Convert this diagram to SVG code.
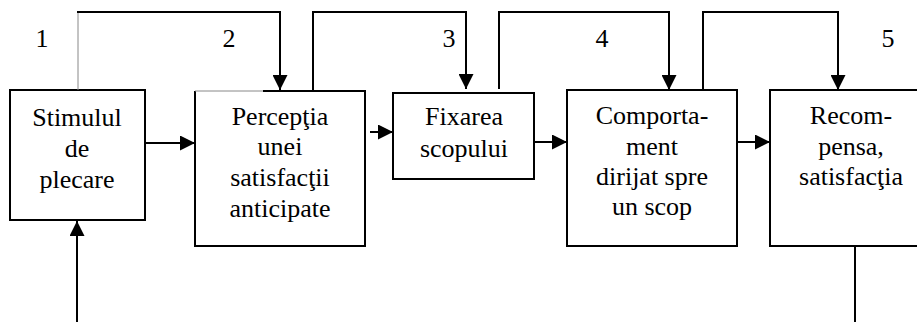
<svg xmlns="http://www.w3.org/2000/svg" width="917" height="322" viewBox="0 0 917 322">
<style>
.box{fill:#fff;stroke:#000;stroke-width:2}
.ln{fill:none;stroke:#000;stroke-width:2}
.thin{fill:none;stroke:#888;stroke-width:1}
.t{font-family:"Times New Roman","Liberation Serif",Tinos,"Nimbus Roman","DejaVu Serif",serif;font-size:26px;fill:#000;text-anchor:middle}
</style>
<defs>
<marker id="ah" markerUnits="userSpaceOnUse" markerWidth="15" markerHeight="15" refX="15" refY="7.5" orient="auto" viewBox="0 0 15 15">
<path d="M0,0 L15,7.5 L0,15 z" fill="#000"/>
</marker>
</defs>
<rect width="917" height="322" fill="#fff"/>
<g id="labels" class="t">
<text x="42" y="47">1</text>
<text x="229" y="47">2</text>
<text x="449" y="47">3</text>
<text x="602" y="47">4</text>
<text x="888" y="47">5</text>
</g>
<g id="node1" class="t">
<rect class="box" x="10" y="90" width="135" height="130"/>
<text x="77" y="126">Stimulul</text>
<text x="77" y="157">de</text>
<text x="77" y="188">plecare</text>
</g>
<g id="node2" class="t">
<rect x="195" y="91" width="170" height="155" fill="#fff"/>
<path class="ln" d="M263,91 H365 V246 H195 V91"/>
<line class="thin" x1="195" y1="91" x2="263" y2="91"/>
<text x="280" y="125">Percepţia</text>
<text x="280" y="155">unei</text>
<text x="280" y="186">satisfacţii</text>
<text x="280" y="217">anticipate</text>
</g>
<g id="node3" class="t">
<rect class="box" x="393" y="93" width="141" height="86"/>
<text x="464" y="125">Fixarea</text>
<text x="464" y="157">scopului</text>
</g>
<g id="node4" class="t">
<rect class="box" x="567" y="90" width="170" height="156"/>
<text x="652" y="124">Comporta-</text>
<text x="652" y="155">ment</text>
<text x="652" y="185">dirijat spre</text>
<text x="652" y="215">un scop</text>
</g>
<g id="node5" class="t">
<rect class="box" x="770" y="90" width="160" height="156"/>
<text x="851" y="124">Recom-</text>
<text x="851" y="155">pensa,</text>
<text x="851" y="185">satisfacţia</text>
</g>
<g id="connectors">
<line class="thin" x1="78" y1="90" x2="78" y2="12"/>
<path class="ln" d="M77,12 H280 V90" marker-end="url(#ah)"/>
<path class="ln" d="M313,90 V12 H466 V89" marker-end="url(#ah)"/>
<path class="ln" d="M499,89 V12 H669 V90" marker-end="url(#ah)"/>
<path class="ln" d="M703,90 V12 H838 V90" marker-end="url(#ah)"/>
<line class="ln" x1="145" y1="143" x2="195" y2="143" marker-end="url(#ah)"/>
<line class="ln" x1="370" y1="132" x2="393" y2="132" marker-end="url(#ah)"/>
<line class="ln" x1="534" y1="142" x2="567" y2="142" marker-end="url(#ah)"/>
<line class="ln" x1="737" y1="142" x2="770" y2="142" marker-end="url(#ah)"/>
<line class="ln" x1="77" y1="322" x2="77" y2="221" marker-end="url(#ah)"/>
<line class="ln" x1="855" y1="246" x2="855" y2="322"/>
</g>
</svg>
